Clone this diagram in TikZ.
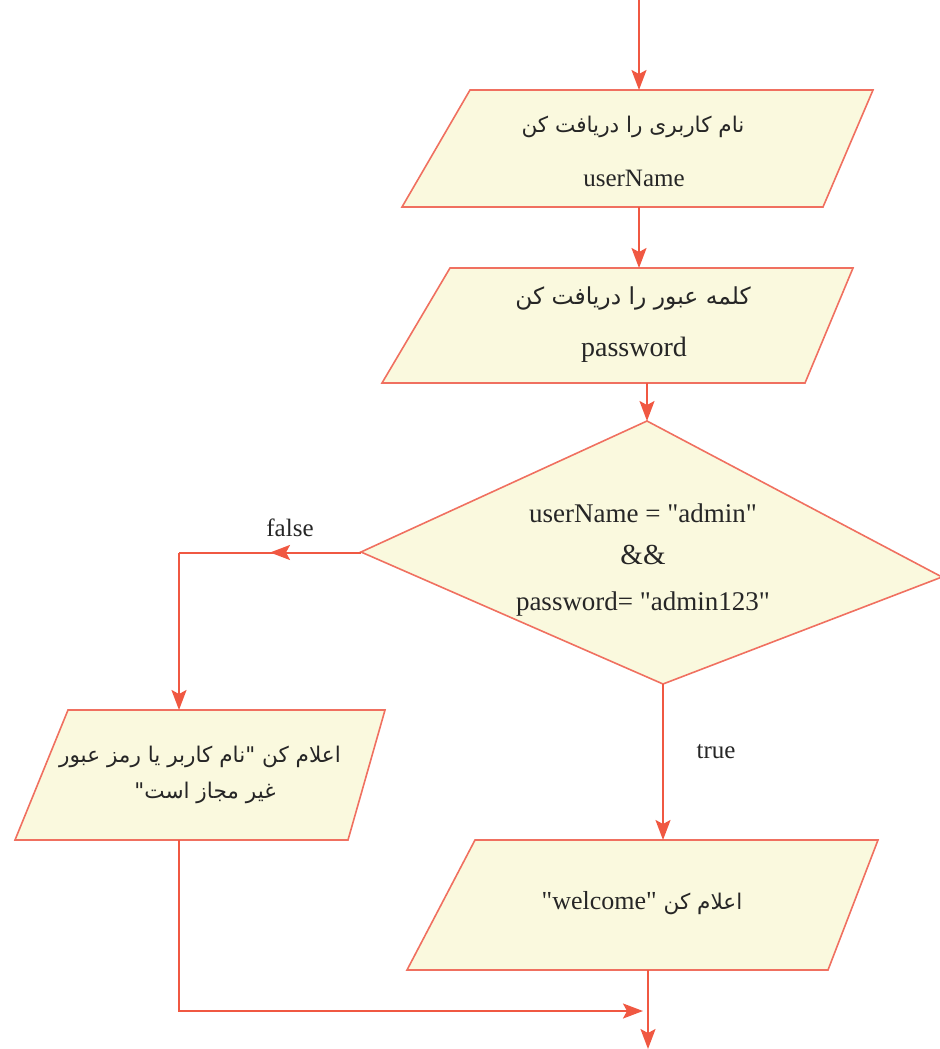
\documentclass[tikz,border=0pt]{standalone}
\usepackage{fontspec}
\setmainfont{Liberation Serif}[Ligatures=TeXOff]
\newfontfamily\arabicfont[Script=Arabic]{DejaVu Sans}
\TeXXeTstate=1
\usetikzlibrary{arrows.meta,decorations.markings}
\definecolor{lineRed}{RGB}{240,88,66}
\definecolor{boxEdge}{RGB}{240,112,96}
\definecolor{boxFill}{RGB}{250,249,222}
\begin{document}
\begin{tikzpicture}[x=0.5pt,y=-0.5pt,
  shapebox/.style={draw=boxEdge, fill=boxFill, line width=0.8pt, line join=miter},
  hold/.style={draw=none, inner sep=0pt, outer sep=0pt, minimum width=1pt},
  txt/.style={inner sep=0pt, outer sep=0pt, text=black!85, font=\fontsize{13}{15}\selectfont},
  artxt/.style={inner sep=0pt, outer sep=0pt, text=black!85, font=\arabicfont\fontsize{10.8}{15}\selectfont},
  conn/.style={draw=lineRed, line width=1pt},
  flow/.style={conn, -{Stealth[length=10pt,width=7.5pt,inset=2pt]}},
  midflow/.style={conn, postaction={decorate}, decoration={markings, mark=at position 0.5 with {\arrow{Stealth[length=10pt,width=7.5pt,inset=2pt]}}}}
]
\useasboundingbox (0,0) rectangle (940,1049);

% shapes
\path[shapebox] (470,90) -- (873,90) -- (823,207) -- (402,207) -- cycle;
\path[shapebox] (450,268) -- (853,268) -- (805,383) -- (382,383) -- cycle;
\path[shapebox] (647,421) -- (942,577) -- (663,684) -- (361,552) -- cycle;
\path[shapebox] (68,710) -- (385,710) -- (348,840) -- (15,840) -- cycle;
\path[shapebox] (475,840) -- (878,840) -- (828,970) -- (407,970) -- cycle;

% holder nodes (one per shape)
\node[hold, minimum height=58.5pt] (b1) at (639,148.5) {};
\node[hold, minimum height=57.5pt] (b2) at (647,325.5) {};
\node[hold, minimum height=131.5pt, minimum width=286pt] (d) at (647,552.5) {};
\node[hold, minimum height=65pt] (b3) at (179,775) {};
\node[hold, minimum height=65pt] (b4) at (663,905) {};

% texts
\node[artxt] (t1a) at (633,127) {\beginR نام کاربری را دریافت کن\endR};
\node[txt, font=\fontsize{12.5}{15}\selectfont] (t1b) at (634,178) {userName};
\node[artxt, font=\arabicfont\fontsize{11.7}{15}\selectfont] (t2a) at (633,298) {\beginR کلمه عبور را دریافت کن\endR};
\node[txt, font=\fontsize{14}{16}\selectfont] (t2b) at (634,350) {password};
\node[txt, font=\fontsize{13.5}{16}\selectfont] (t3a) at (643,513) {userName = "admin"};
\node[txt, font=\fontsize{14.5}{16}\selectfont] (t3b) at (643,555) {\&\&};
\node[txt, font=\fontsize{13.5}{16}\selectfont] (t3c) at (643,604) {password= "admin123"};
\node[artxt] (t4a) at (200,757) {\beginR اعلام کن "نام کاربر یا رمز عبور\endR};
\node[artxt] (t4b) at (205,793) {\beginR غیر مجاز است"\endR};
\node[artxt] (t5) at (642,903) {\beginR اعلام کن \beginL{\rmfamily\fontsize{13}{15}\selectfont"welcome"}\endL\endR};
\node[txt, font=\fontsize{12.5}{15}\selectfont] (lf) at (290,528) {false};
\node[txt, font=\fontsize{12.5}{15}\selectfont] (lt) at (716,752) {true};

% connectors
\coordinate (start) at (639,0);
\coordinate (join) at (643,1011);
\coordinate (out) at (648,1049);
\draw[flow] (start) -- (b1.north);
\draw[flow] (b1.south) -- (b1.south |- b2.north);
\draw[flow] (b2.south) -- (d.north);
\draw[midflow] (d.west) -- (b3.north |- d.west);
\draw[flow] (b3.north |- d.west) -- (b3.north);
\draw[flow] (d.south -| b4.north) -- (b4.north);
\draw[flow] (b3.south) |- (join);
\draw[flow] ([xshift=-7.5pt]b4.south) -- (out);
\end{tikzpicture}
\end{document}
